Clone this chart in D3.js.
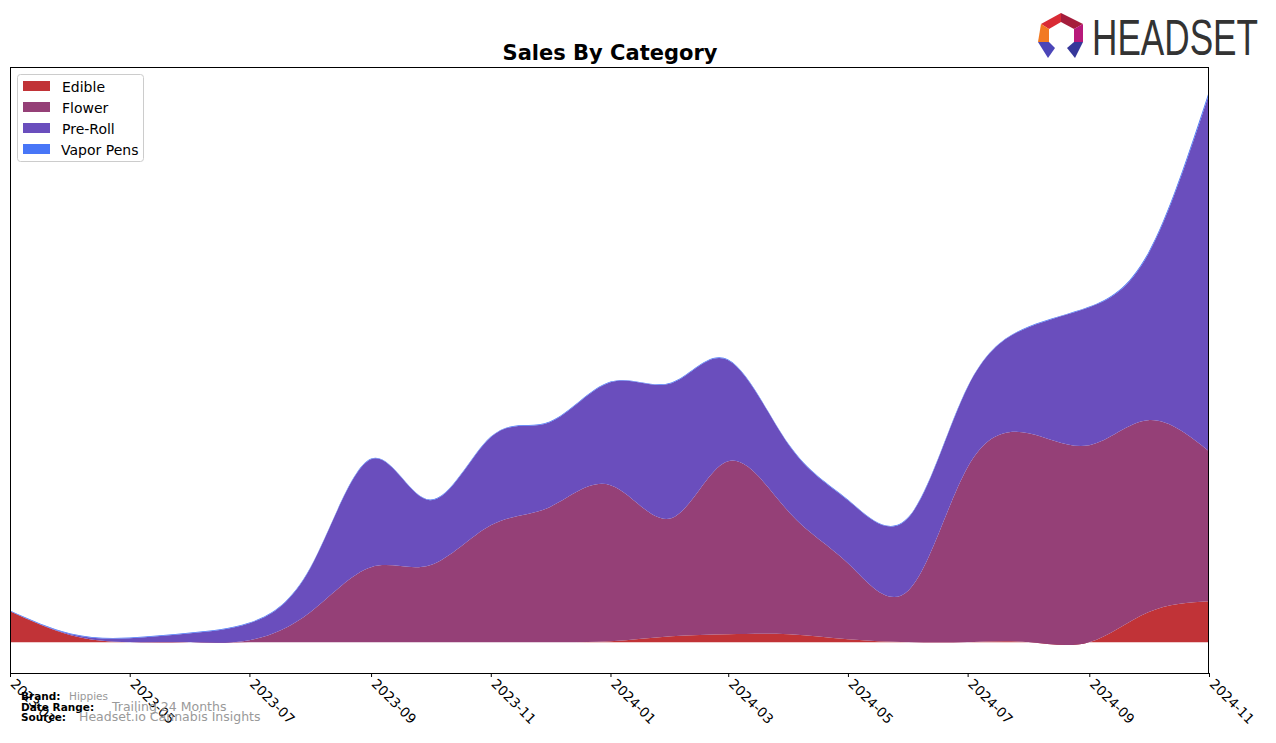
<!DOCTYPE html>
<html><head><meta charset="utf-8">
<script src="https://cdn.jsdelivr.net/npm/d3@7"></script>
<style>
html,body{margin:0;padding:0;background:#fff;}
svg{display:block;font-family:"DejaVu Sans",sans-serif;}
</style></head>
<body><svg id="chart" width="1276" height="743"></svg>
<script>
const months = ["2023-03","2023-04","2023-05","2023-06","2023-07","2023-08","2023-09","2023-10","2023-11","2023-12",
  "2024-01","2024-02","2024-03","2024-04","2024-05","2024-06","2024-07","2024-08","2024-09","2024-10","2024-11"];
const categories = ["Edible","Flower","Pre-Roll","Vapor Pens"];
const edible    = [31, 7, 0, 0, 0, 0, 0, 0, 0, 0, 1, 6, 8, 8, 3, 0, 0, 0, 0, 30, 41];
const flower    = [0, 0, 0, 0, 2, 30, 75, 77, 117, 135, 156, 118, 173, 122, 76, 52, 175, 209, 197, 192, 150];
const preRoll   = [0, 1, 4, 9, 17, 44, 108, 65, 88, 85, 103, 135, 101, 67, 63, 73, 80, 106, 138, 166, 357];
const vaporPens = [0.6, 0.6, 0.6, 0.6, 0.6, 0.6, 0.6, 0.6, 0.6, 0.6, 0.6, 0.6, 0.6, 0.6, 0.6, 0.6, 0.6, 0.6, 0.6, 1.5, 3];
const tickLabels = ["2023-03","2023-05","2023-07","2023-09","2023-11","2024-01","2024-03","2024-05","2024-07","2024-09","2024-11"];
const colors = ["#c13337", "#954077", "#6a4ebd", "#4876f7"];

const svg = d3.select("#chart");
const parse = d3.timeParse("%Y-%m");
const margin = {left: 10, right: 1209, top: 67, bottom: 673};

const rows = months.map((m, i) => ({
  date: parse(m),
  "Edible": edible[i], "Flower": flower[i], "Pre-Roll": preRoll[i], "Vapor Pens": vaporPens[i]
}));
const series = d3.stack().keys(categories)(rows);

const x = d3.scaleTime().domain([parse(months[0]), parse(months[months.length - 1])]).range([margin.left, margin.right]);
const ymax = d3.max(series[series.length - 1], d => d[1]);
const y = d3.scaleLinear().domain([-ymax * 0.056, ymax * 1.044]).range([margin.bottom, margin.top]);

svg.append("clipPath").attr("id", "clip").append("rect")
  .attr("x", margin.left).attr("y", margin.top)
  .attr("width", margin.right - margin.left).attr("height", margin.bottom - margin.top);

const area = d3.area().x(d => x(d.data.date)).y0(d => y(d[0])).y1(d => y(d[1])).curve(d3.curveNatural);

svg.append("g").attr("clip-path", "url(#clip)").selectAll("path").data(series).join("path")
  .attr("d", area).attr("fill", (d, i) => colors[i]);

// frame
svg.append("rect").attr("x", margin.left + 0.5).attr("y", margin.top + 0.5)
  .attr("width", margin.right - margin.left - 1).attr("height", margin.bottom - margin.top)
  .attr("fill", "none").attr("stroke", "#000").attr("stroke-width", 1);

// x axis
const ax = svg.append("g").attr("transform", `translate(0,${margin.bottom})`)
  .call(d3.axisBottom(x).tickValues(tickLabels.map(parse)).tickFormat(d3.timeFormat("%Y-%m")).tickSize(4).tickSizeOuter(0));
ax.select(".domain").remove();
ax.selectAll(".tick line").attr("stroke", "#000");
ax.selectAll(".tick text")
  .attr("font-family", "DejaVu Sans").attr("font-size", 13.5).attr("fill", "#000")
  .attr("text-anchor", "start").attr("dy", 0)
  .attr("transform", "translate(2,9) rotate(45)").attr("x", 0).attr("y", 4);

// title
svg.append("text").attr("x", 610).attr("y", 60).attr("text-anchor", "middle")
  .attr("font-weight", "bold").attr("font-size", 21).text("Sales By Category");

// legend
const lg = svg.append("g");
lg.append("rect").attr("x", 17.5).attr("y", 74.5).attr("width", 126).attr("height", 87)
  .attr("rx", 3).attr("fill", "#fff").attr("fill-opacity", 0.8).attr("stroke", "#ccc");
categories.forEach((c, i) => {
  const yy = 81 + i * 21;
  lg.append("rect").attr("x", 23).attr("y", yy).attr("width", 27).attr("height", 10).attr("fill", colors[i]);
  lg.append("text").attr("x", c === "Vapor Pens" ? 61 : 62).attr("y", yy + 11).attr("font-size", 14).text(c);
});

// footer
const ft = svg.append("g").attr("font-size", 10.5);
ft.append("text").attr("x", 21).attr("y", 700).attr("font-weight", "bold").text("Brand:");
ft.append("text").attr("x", 69).attr("y", 700).attr("fill", "#999").attr("font-size", 10.5).text("Hippies");
ft.append("text").attr("x", 21).attr("y", 711).attr("font-weight", "bold").text("Date Range:");
ft.append("text").attr("x", 112).attr("y", 711).attr("fill", "#999").attr("font-size", 12.5).text("Trailing 24 Months");
ft.append("text").attr("x", 21).attr("y", 721).attr("font-weight", "bold").text("Source:");
ft.append("text").attr("x", 79).attr("y", 721).attr("fill", "#999").attr("font-size", 12.5).text("Headset.io Cannabis Insights");

// logo
const logo = svg.append("g");
const polys = [
  {p: [[1041,24],[1061,13],[1061,22],[1049,29]], c: "#d92b35"},
  {p: [[1061,13],[1083,24],[1074,29],[1061,22]], c: "#a51d3c"},
  {p: [[1083,24],[1083,42],[1074,42],[1074,29]], c: "#b8197a"},
  {p: [[1041,24],[1049,29],[1049,42],[1038,42]], c: "#f27a22"},
  {p: [[1038,42],[1049,42],[1055,48],[1048,58]], c: "#4b45b8"},
  {p: [[1083,42],[1074,42],[1067,48],[1075,58]], c: "#36379a"}
];
polys.forEach(o => logo.append("polygon").attr("points", o.p.map(q => q.join(",")).join(" ")).attr("fill", o.c));
logo.append("text").attr("x", 1092).attr("y", 55).attr("font-family", "Liberation Sans Narrow, Liberation Sans, sans-serif")
  .attr("font-size", 50).attr("fill", "#333").attr("textLength", 166).attr("lengthAdjust", "spacingAndGlyphs").text("HEADSET");
</script></body></html>
